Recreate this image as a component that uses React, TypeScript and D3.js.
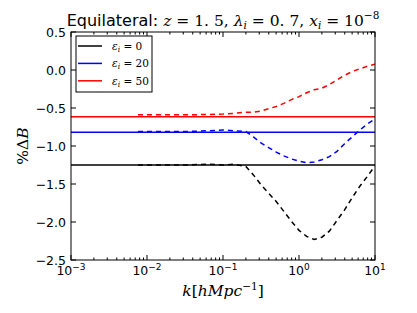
import * as d3 from "d3";
import { useEffect, useRef } from "react";

const W = 417;
const H = 313;
const margin = { left: 71, right: 42, top: 32, bottom: 53 };

// k [h/Mpc] sample points of the dashed curves
const kValues = [
  0.0076, 0.0158, 0.0316, 0.0631, 0.1, 0.141, 0.2, 0.251, 0.316, 0.398, 0.501,
  0.631, 0.794, 1.0, 1.26, 1.58, 2.0, 2.51, 3.16, 3.98, 5.01, 6.31, 7.94, 10.0,
];
const dashedBlack = [
  -1.25, -1.25, -1.25, -1.24, -1.25, -1.24, -1.27, -1.38, -1.51, -1.62, -1.73,
  -1.86, -1.99, -2.11, -2.19, -2.23, -2.2, -2.12, -1.98, -1.84, -1.68, -1.53,
  -1.4, -1.26,
];
const dashedBlue = [
  -0.81, -0.81, -0.81, -0.8, -0.79, -0.8, -0.81, -0.88, -0.96, -1.02, -1.08,
  -1.13, -1.17, -1.2, -1.22, -1.21, -1.18, -1.14, -1.07, -0.97, -0.88, -0.79,
  -0.71, -0.645,
];
const dashedRed = [
  -0.59, -0.59, -0.59, -0.585, -0.58, -0.57, -0.555, -0.555, -0.54, -0.51,
  -0.48, -0.44, -0.39, -0.35, -0.3, -0.26, -0.24, -0.19, -0.13, -0.07, -0.02,
  0.015, 0.05, 0.075,
];
const solidLevels = [-1.25, -0.82, -0.615];
const seriesColors = ["black", "blue", "red"];
const legendValues = ["0", "20", "50"];
const yTicks = [0.5, 0.0, -0.5, -1.0, -1.5, -2.0, -2.5];
const xTickExps = [-3, -2, -1, 0, 1];

const SANS = "DejaVu Sans, sans-serif";
const SERIF = "DejaVu Serif, serif";
const fmt = (v: number) => d3.format(".1f")(v).replace("-", "\u2212");

const Chart = () => {
  const svgRef = useRef<SVGSVGElement | null>(null);

  useEffect(() => {
    const svg = d3.select(svgRef.current);
    svg.selectAll("*").remove();

    const x = d3
      .scaleLog()
      .domain([1e-3, 10])
      .range([margin.left, W - margin.right]);
    const y = d3
      .scaleLinear()
      .domain([-2.5, 0.5])
      .range([H - margin.bottom, margin.top]);
    const [x0, x1] = x.range();
    const [y0, y1] = y.range();

    svg
      .append("defs")
      .append("clipPath")
      .attr("id", "plot-clip")
      .append("rect")
      .attr("x", x0)
      .attr("y", y1)
      .attr("width", x1 - x0)
      .attr("height", y0 - y1);

    const plot = svg.append("g").attr("clip-path", "url(#plot-clip)");

    // solid reference levels
    plot
      .selectAll(".solid")
      .data(solidLevels)
      .join("line")
      .attr("x1", x0)
      .attr("x2", x1)
      .attr("y1", (d) => y(d))
      .attr("y2", (d) => y(d))
      .attr("stroke", (_, i) => seriesColors[i])
      .attr("stroke-width", 1.5);

    // dashed curves
    const line = d3
      .line<[number, number]>()
      .x((d) => x(d[0]))
      .y((d) => y(d[1]));
    const curves = [dashedBlack, dashedBlue, dashedRed].map((vals) =>
      kValues.map((k, i) => [k, vals[i]] as [number, number])
    );
    plot
      .selectAll(".dashed")
      .data(curves)
      .join("path")
      .attr("fill", "none")
      .attr("stroke", (_, i) => seriesColors[i])
      .attr("stroke-width", 1.5)
      .attr("stroke-dasharray", "5,4")
      .attr("d", (d) => line(d));

    // frame
    svg
      .append("rect")
      .attr("x", x0)
      .attr("y", y1)
      .attr("width", x1 - x0)
      .attr("height", y0 - y1)
      .attr("fill", "none")
      .attr("stroke", "black")
      .attr("stroke-width", 1);

    // y ticks (both sides, inward)
    const ticks = svg.append("g").attr("stroke", "black").attr("stroke-width", 1);
    yTicks.forEach((v) => {
      ticks.append("line").attr("x1", x0).attr("x2", x0 + 5).attr("y1", y(v)).attr("y2", y(v));
      ticks.append("line").attr("x1", x1).attr("x2", x1 - 5).attr("y1", y(v)).attr("y2", y(v));
    });
    svg
      .append("g")
      .selectAll("text")
      .data(yTicks)
      .join("text")
      .attr("x", x0 - 5)
      .attr("y", (d) => y(d) + 4.5)
      .attr("text-anchor", "end")
      .attr("font-family", SANS)
      .attr("font-size", 12.5)
      .text((d) => fmt(d));

    // x ticks: majors and minors, bottom and top
    xTickExps.forEach((e) => {
      const xm = x(Math.pow(10, e));
      ticks.append("line").attr("x1", xm).attr("x2", xm).attr("y1", y0).attr("y2", y0 - 5);
      ticks.append("line").attr("x1", xm).attr("x2", xm).attr("y1", y1).attr("y2", y1 + 5);
      if (e < 1) {
        d3.range(2, 10).forEach((m) => {
          const xn = x(m * Math.pow(10, e));
          ticks.append("line").attr("x1", xn).attr("x2", xn).attr("y1", y0).attr("y2", y0 - 2.5);
          ticks.append("line").attr("x1", xn).attr("x2", xn).attr("y1", y1).attr("y2", y1 + 2.5);
        });
      }
    });
    const xl = svg
      .append("g")
      .selectAll("text")
      .data(xTickExps)
      .join("text")
      .attr("x", (d) => x(Math.pow(10, d)))
      .attr("y", y0 + 15)
      .attr("text-anchor", "middle")
      .attr("font-family", SANS)
      .attr("font-size", 12.5);
    xl.append("tspan").text("10");
    xl.append("tspan")
      .attr("dy", -5)
      .attr("font-size", 9)
      .text((d) => (d < 0 ? "\u2212" + Math.abs(d) : String(d)));

    // axis labels
    const xLab = svg
      .append("text")
      .attr("x", (x0 + x1) / 2)
      .attr("y", 296)
      .attr("text-anchor", "middle")
      .attr("font-family", SERIF)
      .attr("font-size", 15.5);
    xLab.append("tspan").attr("font-style", "italic").text("k");
    xLab.append("tspan").text("[");
    xLab.append("tspan").attr("font-style", "italic").text("hMpc");
    xLab.append("tspan").attr("dy", -6).attr("font-size", 10.5).text("\u22121");
    xLab.append("tspan").attr("dy", 6).text("]");

    const yLab = svg
      .append("text")
      .attr("transform", `translate(28, ${(y0 + y1) / 2}) rotate(-90)`)
      .attr("text-anchor", "middle")
      .attr("font-family", SERIF)
      .attr("font-size", 15.5);
    yLab.append("tspan").text("%\u0394");
    yLab.append("tspan").attr("font-style", "italic").text("B");

    // title
    const title = svg
      .append("text")
      .attr("x", (x0 + x1) / 2)
      .attr("y", 26)
      .attr("text-anchor", "middle")
      .attr("font-size", 16);
    title.append("tspan").attr("font-family", SANS).text("Equilateral: ");
    const m = (t: string, italic = false, dy = 0, size = 15.5) =>
      title
        .append("tspan")
        .attr("font-family", SERIF)
        .attr("font-style", italic ? "italic" : "normal")
        .attr("font-size", size)
        .attr("dy", dy)
        .text(t);
    m("z", true);
    m(" = 1. 5, ");
    m("\u03bb", true);
    m("i", true, 3, 10.5);
    m(" = 0. 7, ", false, -3);
    m("x", true);
    m("i", true, 3, 10.5);
    m(" = 10", false, -3);
    m("\u22128", false, -7, 10.5);

    // legend
    const lg = svg.append("g");
    lg.append("rect")
      .attr("x", 76)
      .attr("y", 36)
      .attr("width", 76)
      .attr("height", 56)
      .attr("fill", "white")
      .attr("stroke", "black")
      .attr("stroke-width", 1);
    const rows = lg
      .selectAll(".row")
      .data(legendValues)
      .join("g")
      .attr("transform", (_, i) => `translate(0, ${46 + i * 17.4})`);
    rows
      .append("line")
      .attr("x1", 78)
      .attr("x2", 102)
      .attr("stroke", (_, i) => seriesColors[i])
      .attr("stroke-width", 1.5);
    const lt = rows
      .append("text")
      .attr("x", 112)
      .attr("y", 4)
      .attr("font-family", SERIF)
      .attr("font-size", 10.5);
    lt.append("tspan").attr("font-style", "italic").text("\u03b5");
    lt.append("tspan").attr("font-style", "italic").attr("font-size", 7.5).attr("dy", 2).text("i");
    lt.append("tspan").attr("dy", -2).text((d) => " = " + d);
  }, []);

  return (
    <svg
      ref={svgRef}
      width={W}
      height={H}
      style={{ position: "absolute", left: 0, top: 0, background: "white" }}
    />
  );
};

export default function App() {
  return <Chart />;
}
